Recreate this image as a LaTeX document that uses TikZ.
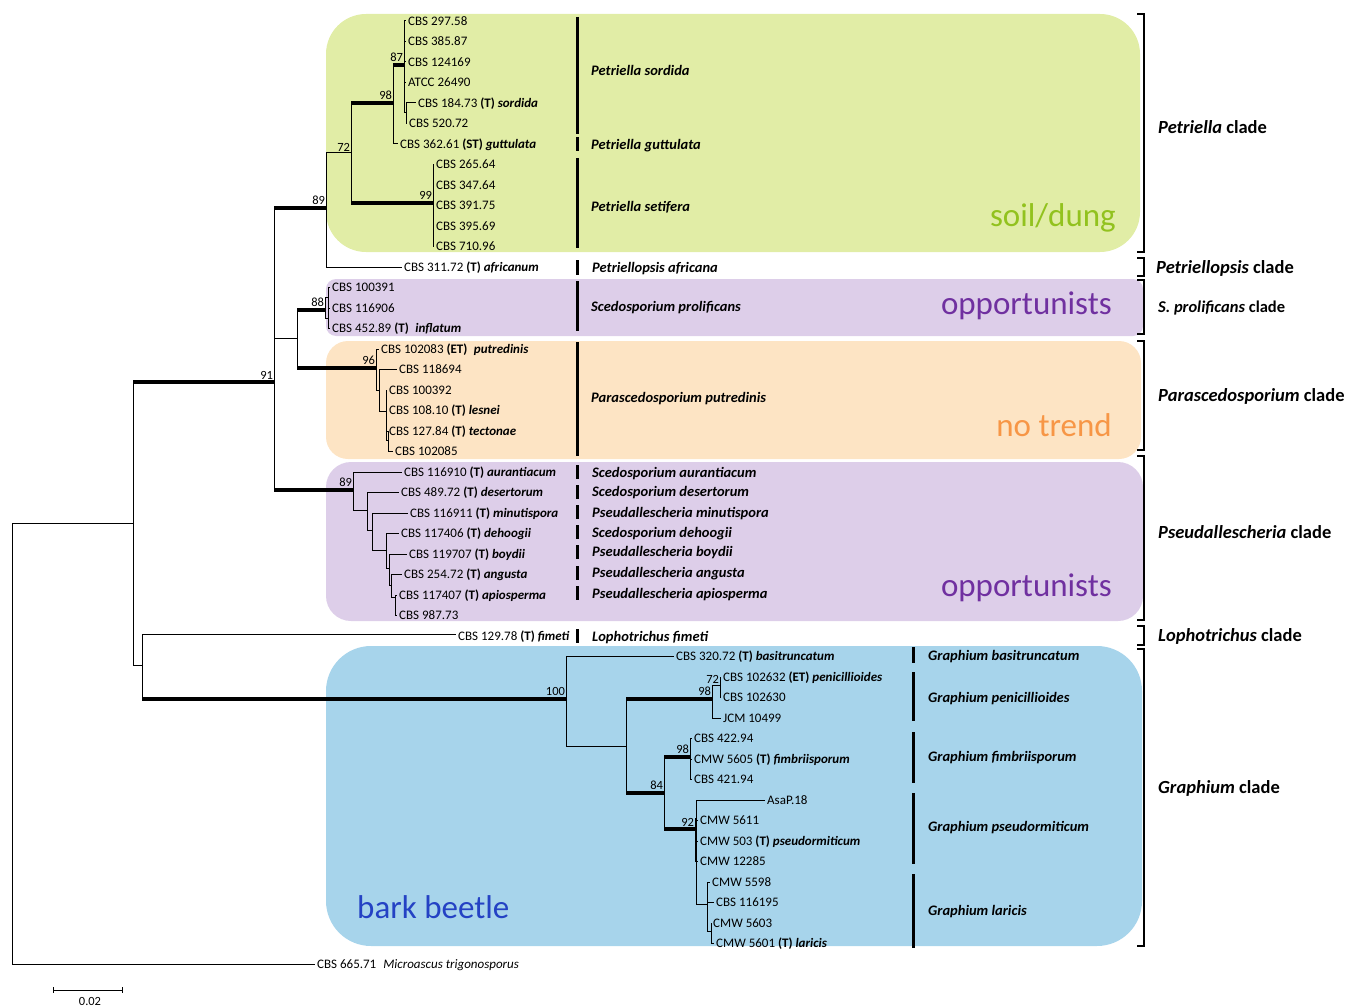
\documentclass[tikz,border=0pt]{standalone}
\usepackage{fontspec}
\setmainfont{Carlito}
\definecolor{cgreen}{HTML}{E1EDA6}
\definecolor{cpurple}{HTML}{DDCEE9}
\definecolor{corange}{HTML}{FDE4C4}
\definecolor{cblue}{HTML}{A7D4EB}
\definecolor{tgreen}{HTML}{92C21E}
\definecolor{tpurple}{HTML}{7030A0}
\definecolor{torange}{HTML}{F79646}
\definecolor{tblue}{HTML}{2442C4}
\newcommand{\bi}[1]{\textbf{\textit{#1}}}
\begin{document}
\begin{tikzpicture}[x=1pt,y=-1pt,
  br/.style={line width=1pt},
  tb/.style={line width=3.6pt},
  leaf/.style={anchor=west,inner xsep=2pt,inner ysep=0pt,text height=8.4pt,text depth=0pt,font=\fontsize{13}{15}\selectfont},
  sp/.style={anchor=west,inner sep=0pt,text height=9pt,text depth=0pt,font=\fontsize{14.5}{17}\selectfont\bfseries\itshape},
  cl/.style={anchor=west,inner sep=0pt,text height=11.5pt,text depth=0pt,font=\fontsize{18.5}{22}\selectfont\bfseries},
  sup/.style={anchor=south east,inner sep=0.8pt,font=\fontsize{12.5}{14}\selectfont},
  bar/.style={line width=3pt},
  brk/.style={line width=2.4pt},
  big/.style={inner sep=0pt,font=\fontsize{33}{38}\selectfont}]
\useasboundingbox (0,0) rectangle (1347,1006);
% coloured backgrounds
\fill[cgreen,rounded corners=40pt] (326,14) rectangle (1140,252);
\fill[cpurple,rounded corners=10pt] (326,279) rectangle (1143,336);
\fill[corange,rounded corners=22pt] (326,341) rectangle (1141,459);
\fill[cpurple,rounded corners=25pt] (326,462) rectangle (1143,621);
\fill[cblue,rounded corners=45pt] (326,646) rectangle (1142,946);
% trait labels
\node[big,text=tgreen,anchor=east] (tsoil) at (1116,218) {soil/dung};
\node[big,text=tpurple,anchor=east] (topp1) at (1112,306) {opportunists};
\node[big,text=torange,anchor=east] (tnotr) at (1112,425) {no trend};
\node[big,text=tpurple,anchor=east] (topp2) at (1112,588) {opportunists};
\node[big,text=tblue,anchor=west] (tbark) at (357,907) {bark beetle};
% leaves
\node[leaf] (l0) at (406,21) {CBS 297.58};
\node[leaf] (l1) at (406,41.5) {CBS 385.87};
\node[leaf] (l2) at (406,62) {CBS 124169};
\node[leaf] (l3) at (406,82.5) {ATCC 26490};
\node[leaf] (l4) at (416,103) {CBS 184.73 \textbf{(T)} \bi{sordida}};
\node[leaf] (l5) at (407,123.5) {CBS 520.72};
\node[leaf] (l6) at (398,144) {CBS 362.61 \textbf{(ST)} \bi{guttulata}};
\node[leaf] (l7) at (434,164.5) {CBS 265.64};
\node[leaf] (l8) at (434,185) {CBS 347.64};
\node[leaf] (l9) at (434,205.5) {CBS 391.75};
\node[leaf] (l10) at (434,226) {CBS 395.69};
\node[leaf] (l11) at (434,246.5) {CBS 710.96};
\node[leaf] (l12) at (402,267) {CBS 311.72 \textbf{(T)} \bi{africanum}};
\node[leaf] (l13) at (330,287.5) {CBS 100391};
\node[leaf] (l14) at (330,308) {CBS 116906};
\node[leaf] (l15) at (330,328.5) {CBS 452.89 \textbf{(T)}\enspace\bi{inflatum}};
\node[leaf] (l16) at (379,349) {CBS 102083 \textbf{(ET)}\enspace\bi{putredinis}};
\node[leaf] (l17) at (397,369.5) {CBS 118694};
\node[leaf] (l18) at (387,390) {CBS 100392};
\node[leaf] (l19) at (387,410.5) {CBS 108.10 \textbf{(T)} \bi{lesnei}};
\node[leaf] (l20) at (387,431) {CBS 127.84 \textbf{(T)} \bi{tectonae}};
\node[leaf] (l21) at (393,451.5) {CBS 102085};
\node[leaf] (l22) at (402,472) {CBS 116910 \textbf{(T)} \bi{aurantiacum}};
\node[leaf] (l23) at (399,492.5) {CBS 489.72 \textbf{(T)} \bi{desertorum}};
\node[leaf] (l24) at (408,513) {CBS 116911 \textbf{(T)} \bi{minutispora}};
\node[leaf] (l25) at (399,533.5) {CBS 117406 \textbf{(T)} \bi{dehoogii}};
\node[leaf] (l26) at (407,554) {CBS 119707 \textbf{(T)} \bi{boydii}};
\node[leaf] (l27) at (402,574.5) {CBS 254.72 \textbf{(T)} \bi{angusta}};
\node[leaf] (l28) at (397,595) {CBS 117407 \textbf{(T)} \bi{apiosperma}};
\node[leaf] (l29) at (397,615.5) {CBS 987.73};
\node[leaf] (l30) at (456,636) {CBS 129.78 \textbf{(T)} \bi{fimeti}};
\node[leaf] (l31) at (674,656.5) {CBS 320.72 \textbf{(T)} \bi{basitruncatum}};
\node[leaf] (l32) at (721,677) {CBS 102632 \textbf{(ET)} \bi{penicillioides}};
\node[leaf] (l33) at (721,697.5) {CBS 102630};
\node[leaf] (l34) at (721,718) {JCM 10499};
\node[leaf] (l35) at (692,738.5) {CBS 422.94};
\node[leaf] (l36) at (692,759) {CMW 5605 \textbf{(T)} \bi{fimbriisporum}};
\node[leaf] (l37) at (692,779.5) {CBS 421.94};
\node[leaf] (l38) at (765,800) {AsaP.18};
\node[leaf] (l39) at (698,820.5) {CMW 5611};
\node[leaf] (l40) at (698,841) {CMW 503 \textbf{(T)} \bi{pseudormiticum}};
\node[leaf] (l41) at (698,861.5) {CMW 12285};
\node[leaf] (l42) at (710,882) {CMW 5598};
\node[leaf] (l43) at (714,902.5) {CBS 116195};
\node[leaf] (l44) at (711,923) {CMW 5603};
\node[leaf] (l45) at (714,943.5) {CMW 5601 \textbf{(T)} \bi{laricis}};
\node[leaf] (l46) at (315,964) {CBS 665.71\hspace{7pt}{\fontsize{13}{15}\selectfont\itshape Microascus trigonosporus}};
% ---- tree ----
% root
\draw[br] (12,523) -- (12,964) -- (l46.west);
\draw[br] (12,523) -- (133,523);
\draw[br] (133,382) -- (133,665);
\draw[tb] (133,382) -- (274,382);
\draw[br] (133,665) -- (142,665);
\draw[br] (142,634) -- (142,699);
\draw[br] (142,634) -- (l30.west |- 142,634);
\draw[tb] (142,699) -- (566,699);
% node 91
\draw[br] (274,208) -- (274,490);
\draw[tb] (274,208) -- (326,208);
\draw[br] (274,338) -- (297,338);
\draw[tb] (274,490) -- (353,490);
% Petriella
\draw[br] (326,153) -- (326,267) -- (l12.west);
\draw[br] (326,153) -- (351,153);
\draw[br] (351,103) -- (351,203);
\draw[tb] (351,103) -- (393,103);
\draw[tb] (351,203) -- (433,203);
\draw[br] (393,65) -- (393,144) -- (l6.west);
\draw[tb] (393,65) -- (404,65);
\draw[br] (404,21) -- (404,113);
\foreach \i in {0,1,2,3} \draw[br] (404,0 |- l\i.west) -- (l\i.west);
\draw[br] (404,113) -- (406,113);
\draw[br] (406,103) -- (406,123.5);
\draw[br] (406,103) -- (l4.west);
\draw[br] (406,123.5) -- (l5.west);
\draw[br] (433,164.5) -- (433,246.5);
\foreach \i in {7,...,11} \draw[br] (433,0 |- l\i.west) -- (l\i.west);
% S. prolificans + Parascedosporium
\draw[br] (297,310) -- (297,368);
\draw[tb] (297,310) -- (325,310);
\draw[tb] (297,368) -- (376,368);
\draw[br] (325,297) -- (325,318);
\draw[br] (325,297) -- (328,297);
\draw[br] (325,318) -- (328,318);
\draw[br] (328,287.5) -- (328,328.5);
\foreach \i in {13,14,15} \draw[br] (328,0 |- l\i.west) -- (l\i.west);
\draw[br] (376,349) -- (376,390);
\draw[br] (376,349) -- (l16.west);
\draw[br] (376,390) -- (379,390);
\draw[br] (379,369.5) -- (379,411);
\draw[br] (379,369.5) -- (l17.west);
\draw[br] (379,411) -- (386,411);
\draw[br] (386,390) -- (386,440);
\draw[br] (386,390) -- (l18.west);
\draw[br] (386,410.5) -- (l19.west);
\draw[br] (386,440) -- (388,440);
\draw[br] (388,431) -- (388,451.5);
\draw[br] (388,431) -- (l20.west);
\draw[br] (388,451.5) -- (l21.west);
% Pseudallescheria
\draw[br] (353,472) -- (353,510);
\draw[br] (353,472) -- (l22.west);
\draw[br] (353,510) -- (367,510);
\draw[br] (367,492.5) -- (367,530);
\draw[br] (367,492.5) -- (l23.west);
\draw[br] (367,530) -- (372,530);
\draw[br] (372,513) -- (372,550);
\draw[br] (372,513) -- (l24.west);
\draw[br] (372,550) -- (386,550);
\draw[br] (386,533.5) -- (386,568);
\draw[br] (386,533.5) -- (l25.west);
\draw[br] (386,568) -- (389,568);
\draw[br] (389,554) -- (389,585);
\draw[br] (389,554) -- (l26.west);
\draw[br] (389,585) -- (391,585);
\draw[br] (391,574.5) -- (391,597);
\draw[br] (391,574.5) -- (l27.west);
\draw[br] (391,597) -- (395,597);
\draw[br] (395,595) -- (395,615.5);
\draw[br] (395,595) -- (l28.west);
\draw[br] (395,615.5) -- (l29.west);
% Graphium
\draw[br] (566,656.5) -- (566,746);
\draw[br] (566,656.5) -- (l31.west);
\draw[br] (566,746) -- (626,746);
\draw[br] (626,699) -- (626,793);
\draw[tb] (626,699) -- (712,699);
\draw[tb] (626,793) -- (664,793);
\draw[br] (712,685) -- (712,718) -- (l34.west);
\draw[br] (712,685) -- (720,685);
\draw[br] (720,677) -- (720,697.5);
\draw[br] (720,677) -- (l32.west);
\draw[br] (720,697.5) -- (l33.west);
\draw[br] (664,757) -- (664,829);
\draw[tb] (664,757) -- (690,757);
\draw[tb] (664,829) -- (696,829);
\draw[br] (690,738.5) -- (690,779.5);
\foreach \i in {35,36,37} \draw[br] (690,0 |- l\i.west) -- (l\i.west);
\draw[br] (696,800) -- (696,904);
\draw[br] (696,800) -- (l38.west);
\draw[line width=2pt] (696,818) -- (696,862);
\foreach \i in {39,40,41} \draw[br] (696,0 |- l\i.west) -- (l\i.west);
\draw[br] (696,904) -- (707,904);
\draw[br] (707,882) -- (707,931);
\draw[br] (707,882) -- (l42.west);
\draw[br] (707,902.5) -- (l43.west);
\draw[br] (707,931) -- (711,931);
\draw[br] (711,923) -- (711,943.5);
\draw[br] (711,923) -- (l44.west);
\draw[br] (711,943.5) -- (l45.west);
% support values
\node[sup] (s87) at (404,63) {87};
\node[sup] (s98a) at (393,101) {98};
\node[sup] (s72a) at (351,152.5) {72};
\node[sup] (s99) at (433,201) {99};
\node[sup] (s89a) at (326,206) {89};
\node[sup] (s88) at (325,308) {88};
\node[sup] (s96) at (376,366) {96};
\node[sup] (s91) at (274,380) {91};
\node[sup] (s89b) at (353,488) {89};
\node[sup] (s100) at (566,697) {100};
\node[sup] (s72b) at (720,684.5) {72};
\node[sup] (s98b) at (712,697) {98};
\node[sup] (s98c) at (690,755) {98};
\node[sup] (s84) at (664,791) {84};
\node[sup] (s92) at (695,827) {92};
% species bars and names
\draw[bar] (577,17) -- (577,134);
\draw[bar] (577,137) -- (577,151);
\draw[bar] (577,158) -- (577,248);
\draw[bar] (577,260) -- (577,275);
\draw[bar] (577,281) -- (577,331);
\draw[bar] (577,342) -- (577,456);
\foreach \yy in {472,492,512,532,552,573,593} \draw[bar] (577,\yy-7) -- (577,\yy+7);
\draw[bar] (577,629) -- (577,643);
\node[sp] (p1) at (591,71) {Petriella sordida};
\node[sp] (p2) at (591,145) {Petriella guttulata};
\node[sp] (p3) at (591,207) {Petriella setifera};
\node[sp] (p4) at (592,268) {Petriellopsis africana};
\node[sp] (p5) at (591,307) {Scedosporium prolificans};
\node[sp] (p6) at (591,398) {Parascedosporium putredinis};
\node[sp] (p7) at (592,473) {Scedosporium aurantiacum};
\node[sp] (p8) at (592,492) {Scedosporium desertorum};
\node[sp] (p9) at (592,513) {Pseudallescheria minutispora};
\node[sp] (p10) at (592,533) {Scedosporium dehoogii};
\node[sp] (p11) at (592,552) {Pseudallescheria boydii};
\node[sp] (p12) at (592,573) {Pseudallescheria angusta};
\node[sp] (p13) at (592,594) {Pseudallescheria apiosperma};
\node[sp] (p14) at (592,637) {Lophotrichus fimeti};
\draw[bar] (913,647) -- (913,663);
\draw[bar] (913,672) -- (913,721);
\draw[bar] (913,732) -- (913,783);
\draw[bar] (913,793) -- (913,864);
\draw[bar] (913,874) -- (913,948);
\node[sp] (g1) at (928,656) {Graphium basitruncatum};
\node[sp] (g2) at (928,698) {Graphium penicillioides};
\node[sp] (g3) at (928,757) {Graphium fimbriisporum};
\node[sp] (g4) at (928,827) {Graphium pseudormiticum};
\node[sp] (g5) at (928,911) {Graphium laricis};
% clade brackets
\foreach \ya/\yb in {14/252,258/276,280/334,341/450,456/620,626/645,649/946}
  \draw[brk] (1137,\ya) -- (1144,\ya) -- (1144,\yb) -- (1137,\yb);
\node[cl] (c1) at (1158,128) {\textit{Petriella} clade};
\node[cl] (c2) at (1156,268) {\textit{Petriellopsis} clade};
\node[cl,font=\fontsize{16.5}{20}\selectfont\bfseries] (c3) at (1158,307) {\textit{S. prolificans} clade};
\node[cl] (c4) at (1158,396) {\textit{Parascedosporium} clade};
\node[cl] (c5) at (1158,533) {\textit{Pseudallescheria} clade};
\node[cl] (c6) at (1158,636) {\textit{Lophotrichus} clade};
\node[cl] (c7) at (1158,788) {\textit{Graphium} clade};
% scale bar
\coordinate (sb1) at (53,990);
\coordinate (sb2) at (122,990);
\draw[br] (sb1) -- (sb2);
\draw[br] ([yshift=3pt]sb1) -- ([yshift=-3pt]sb1);
\draw[br] ([yshift=3pt]sb2) -- ([yshift=-3pt]sb2);
\node[font=\fontsize{12.5}{14}\selectfont,inner sep=0pt] (sbl) at (90,1001) {0.02};
\end{tikzpicture}
\end{document}
